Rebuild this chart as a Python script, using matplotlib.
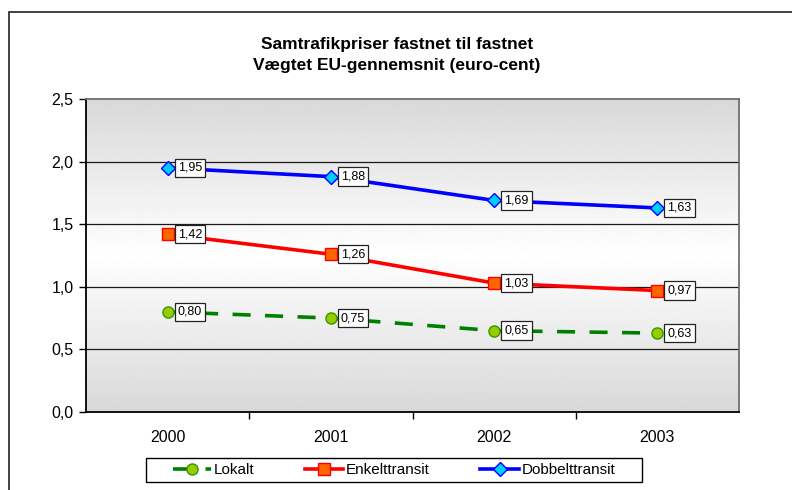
import numpy as np
import matplotlib
matplotlib.use('Agg')
import matplotlib.pyplot as plt
from matplotlib.patches import Rectangle

plt.rcParams['font.family'] = ['Liberation Sans', 'DejaVu Sans']

# data
years = ['2000', '2001', '2002', '2003']
lokalt = [0.80, 0.75, 0.65, 0.63]
enkelt = [1.42, 1.26, 1.03, 0.97]
dobbelt = [1.95, 1.88, 1.69, 1.63]
y_ticks = [0.0, 0.5, 1.0, 1.5, 2.0, 2.5]
y_labels = ['0,0', '0,5', '1,0', '1,5', '2,0', '2,5']
title = 'Samtrafikpriser fastnet til fastnet\nVægtet EU-gennemsnit (euro-cent)'

fig = plt.figure(figsize=(7.92, 4.90), dpi=100)

# outer chart frame (runs off the right and bottom edge)
fig.patches.append(Rectangle((9 / 792, -0.1), 1.2, (490 - 12) / 490 + 0.1,
                             transform=fig.transFigure, fill=False,
                             edgecolor='#333333', linewidth=1.3))

ax = fig.add_axes([86 / 792, 78 / 490, 653 / 792, 313 / 490])
x = np.arange(len(years))

# gray-white-gray gradient background
grad = (1 - np.abs(np.linspace(-1, 1, 256)))[:, None]
ax.imshow(grad, extent=[-0.5, 3.5, 0, 2.5], aspect='auto', cmap='gray',
          vmin=-5.6, vmax=1.0, zorder=0, origin='lower')

for yv in y_ticks[1:-1]:
    ax.axhline(yv, color='#1a1a1a', linewidth=0.9, zorder=1)

ax.plot(x, lokalt, color='#008000', linewidth=2.6, linestyle=(0, (5, 4)),
        marker='o', markersize=8, markerfacecolor='#99cc00',
        markeredgecolor='#339900', label='Lokalt', zorder=3)
ax.plot(x, enkelt, color='#ff0000', linewidth=2.6,
        marker='s', markersize=8, markerfacecolor='#ff6600',
        markeredgecolor='#ff0000', label='Enkelttransit', zorder=3)
ax.plot(x, dobbelt, color='#0000ff', linewidth=2.6,
        marker='D', markersize=7, markerfacecolor='#00ccff',
        markeredgecolor='#0000ff', label='Dobbelttransit', zorder=3)

for series in (lokalt, enkelt, dobbelt):
    for xi, v in zip(x, series):
        ax.annotate(('%.2f' % v).replace('.', ','), (xi, v),
                    xytext=(10, 0), textcoords='offset pixels',
                    ha='left', va='center', fontsize=9, zorder=4,
                    bbox=dict(boxstyle='square,pad=0.25', facecolor='white',
                              edgecolor='#222222', linewidth=0.9))

ax.set_xlim(-0.5, 3.5)
ax.set_ylim(0, 2.5)
ax.set_yticks(y_ticks)
ax.set_yticklabels(y_labels, fontsize=11.5)
ax.set_xticks(x)
ax.set_xticklabels(years, fontsize=11.5)
ax.set_xticks(np.arange(0.5, 3.5, 1.0), minor=True)
ax.tick_params(axis='x', which='major', length=0, pad=13)
ax.tick_params(axis='x', which='minor', length=5, width=1, color='black')
ax.tick_params(axis='y', length=5, width=1, pad=4)

for side in ('left', 'bottom'):
    ax.spines[side].set_color('black')
    ax.spines[side].set_linewidth(1.3)
for side in ('top', 'right'):
    ax.spines[side].set_color('#707070')
    ax.spines[side].set_linewidth(1.3)

fig.text(397 / 792, 1 - 55 / 490, title, ha='center', va='center',
         fontsize=12.5, fontweight='bold', linespacing=1.45)

# legend entries without frame, box drawn separately (wider than the entries)
fig.patches.append(Rectangle((146 / 792, 1 - 482 / 490), 496 / 792, 24 / 490,
                             transform=fig.transFigure, facecolor='white',
                             edgecolor='black', linewidth=1.0))
leg = fig.legend(loc='center', bbox_to_anchor=(394 / 792, 1 - 470 / 490),
                 ncol=3, fontsize=11, frameon=False,
                 handlelength=2.5, handletextpad=0.2,
                 columnspacing=3.3, borderpad=0.2, borderaxespad=0)

fig.savefig('out.png', dpi=100)
